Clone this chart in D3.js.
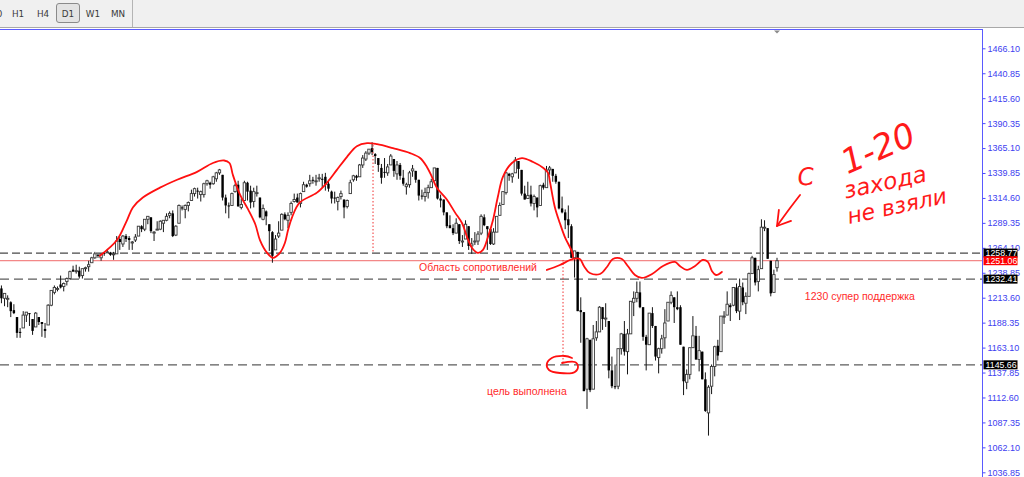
<!DOCTYPE html>
<html><head><meta charset="utf-8">
<script src="https://cdn.jsdelivr.net/npm/d3@7"></script>
<style>body{margin:0;background:#fff;overflow:hidden} svg{display:block}</style>
</head><body>
<svg id="c" width="1024" height="477"></svg>
<script>
// Daily candles, 2010-11-05 .. 2011-11-03 (index 0..251)
const opens = [
1220,1223,1223,1213,1213,1209,1201,1194,1179,1183,1196,1198,1192,1184,1194,1189,1182,
1186,1206,1219,1223,1227,1225,1230,1233,1242,1241,1241,1236,1243,1245,1249,1254,1257,1254,1259,1260,1259,1257,
1258,1273,1268,1276,1274,1270,1272,1276,1286,1283,1293,1295,1280,1283,1283,1289,1292,1297,1299,1277,
1289,1305,1303,1307,1312,1319,1322,1318,1318,1329,1330,1329,1334,1340,1338,1315,1307,1307,1321,
1328,1305,1312,1330,1322,1311,1320,1315,1293,1301,1288,1280,1262,1276,1282,1298,1292,1300,1311,1315,1309,1321,1328,
1329,1333,1332,1335,1334,1336,1329,1321,1315,1311,1316,1313,1306,1319,1333,1337,1336,1348,1354,1360,
1365,1359,1355,1345,1341,1340,1348,1354,1339,1348,1335,1326,1328,1342,1342,1333,1317,1316,1320,1325,1332,
1345,1314,1313,1300,1287,1284,1279,1288,1271,1273,1286,1266,1271,1271,1279,1295,1286,1283,1268,1280,1297,1308,
1320,1339,1336,1340,1352,1343,1319,1314,1318,1309,1315,1307,1328,1325,1343,1344,1337,1331,1304,1300,
1293,1286,1254,1260,1201,1199,1121,1171,1121,1173,1179,1204,1193,1190,1140,1124,1124,1162,1177,1159,1177,1209,1213,
1219,1204,1174,1166,1198,1185,1153,1162,1173,1190,1209,1214,1204,1204,1164,1128,1136,1163,1175,1151,1159,
1131,1097,1124,1144,1165,1159,1194,1196,1206,1206,1224,1200,1224,1208,1215,1238,1254,1230,1243,1284,1284,
1251,1219,1244];
const highs = [
1227,1224,1226,1218,1216,1210,1207,1194,1183,1200,1199,1198,1192,1199,1194,1189,1188,
1207,1221,1226,1225,1236,1229,1234,1241,1246,1247,1245,1243,1245,1251,1255,1260,1258,1258,1260,1263,1260,1260,
1276,1275,1277,1278,1276,1271,1278,1286,1287,1293,1296,1295,1281,1291,1292,1292,1299,1301,1302,1287,
1308,1307,1308,1311,1323,1325,1325,1322,1330,1333,1331,1337,1341,1344,1338,1318,1310,1320,1329,
1332,1314,1332,1331,1327,1325,1327,1315,1308,1302,1288,1281,1277,1291,1299,1300,1300,1311,1319,1319,1320,1331,1329,
1338,1336,1338,1339,1339,1340,1333,1322,1321,1316,1322,1313,1313,1333,1338,1338,1349,1358,1362,1364,
1371,1360,1355,1349,1355,1349,1359,1354,1352,1350,1343,1330,1342,1348,1342,1333,1323,1325,1328,1334,1345,
1345,1318,1313,1300,1297,1288,1294,1288,1277,1292,1286,1274,1280,1281,1298,1298,1286,1284,1284,1296,1310,1321,
1341,1340,1340,1356,1352,1343,1327,1331,1327,1318,1315,1328,1330,1347,1347,1344,1339,1331,1316,1303,
1307,1288,1261,1260,1214,1199,1173,1171,1186,1190,1205,1204,1208,1190,1154,1146,1162,1178,1190,1182,1210,1220,1230,
1230,1204,1176,1198,1204,1185,1163,1176,1202,1209,1220,1214,1220,1206,1164,1141,1163,1195,1185,1175,1159,
1138,1125,1146,1165,1171,1195,1200,1220,1208,1224,1228,1233,1229,1219,1239,1256,1254,1246,1293,1292,1284,
1251,1242,1254];
const lows = [
1218,1217,1208,1205,1204,1194,1197,1173,1173,1183,1189,1185,1176,1184,1186,1174,1173,
1186,1205,1217,1220,1223,1220,1226,1232,1240,1238,1233,1233,1240,1240,1249,1253,1254,1251,1256,1259,1256,1252,
1258,1262,1265,1270,1262,1262,1270,1276,1280,1281,1288,1279,1271,1282,1282,1280,1291,1294,1275,1276,
1289,1302,1294,1301,1312,1316,1314,1311,1315,1327,1324,1328,1331,1338,1312,1299,1294,1307,1320,
1306,1303,1312,1312,1304,1305,1316,1294,1292,1287,1261,1249,1262,1274,1282,1292,1284,1297,1310,1310,1305,1321,1325,
1326,1329,1327,1331,1325,1322,1321,1309,1309,1302,1313,1294,1304,1319,1331,1332,1336,1345,1352,1358,
1358,1349,1341,1329,1335,1337,1348,1336,1333,1333,1327,1318,1325,1336,1330,1312,1313,1311,1314,1325,1332,
1313,1305,1297,1284,1284,1277,1279,1268,1265,1273,1262,1258,1267,1267,1277,1286,1262,1267,1267,1280,1297,1308,
1318,1332,1330,1340,1334,1317,1313,1314,1306,1302,1295,1307,1323,1325,1338,1331,1329,1303,1299,1283,
1274,1254,1234,1200,1168,1119,1101,1118,1121,1170,1179,1181,1184,1132,1122,1121,1121,1156,1155,1136,1177,1195,1209,
1203,1170,1140,1166,1183,1150,1137,1157,1162,1190,1207,1188,1201,1166,1115,1121,1131,1163,1151,1139,1131,
1098,1074,1116,1134,1150,1159,1187,1196,1190,1205,1198,1191,1206,1197,1215,1238,1226,1220,1243,1281,1253,
1215,1219,1240];
const closes = [
1225,1223,1213,1218,1213,1200,1198,1178,1178,1196,1199,1197,1180,1198,1189,1187,1180,
1206,1221,1224,1223,1224,1228,1233,1240,1240,1241,1235,1243,1244,1247,1254,1258,1256,1258,1258,1260,1257,1258,
1271,1270,1276,1273,1272,1270,1275,1286,1283,1293,1296,1281,1280,1283,1291,1292,1296,1299,1276,1286,
1307,1304,1307,1310,1319,1324,1321,1321,1329,1332,1328,1336,1340,1343,1315,1307,1306,1319,1327,
1306,1308,1330,1321,1310,1321,1320,1295,1304,1296,1281,1256,1273,1279,1298,1293,1297,1309,1313,1310,1319,1328,1326,
1332,1332,1332,1335,1333,1328,1324,1314,1314,1315,1319,1305,1312,1330,1337,1335,1348,1355,1360,1364,
1361,1357,1348,1335,1340,1346,1357,1342,1348,1337,1329,1328,1340,1344,1333,1317,1316,1320,1325,1331,1345,
1314,1312,1300,1286,1284,1279,1289,1271,1271,1288,1266,1268,1271,1278,1296,1287,1283,1268,1280,1296,1307,1321,
1340,1337,1339,1353,1344,1319,1313,1317,1309,1316,1305,1327,1325,1343,1345,1337,1331,1304,1300,1292,
1287,1254,1261,1200,1199,1119,1172,1120,1172,1179,1204,1192,1193,1140,1124,1123,1162,1177,1159,1177,1210,1213,1219,
1204,1174,1166,1198,1185,1154,1162,1172,1188,1209,1216,1204,1202,1166,1129,1136,1163,1175,1151,1160,1131,
1099,1123,1144,1164,1155,1195,1195,1207,1204,1224,1200,1225,1209,1215,1238,1254,1229,1242,1285,1285,1253,
1218,1237,1251];

const yTicks = [1466.10,1440.85,1415.60,1390.35,1365.10,1339.85,1314.60,1289.35,1264.10,1238.85,1213.60,1188.35,1163.10,1137.85,1112.60,1087.35,1062.10,1036.85];
const levelValues = [1258.77, 1251.06, 1232.41, 1145.66];
const timeframes = ["M30","H1","H4","D1","W1","MN"];
const activeTimeframe = "D1";
const labelTexts = ["Область сопротивлений", "1230 супер поддержка", "цель выполнена"];
const labelAnchors = [[155.0,1244.7],[277.6,1215.3],[170.7,1119.2]];
const handTexts = ["С","1-20","захода","не взяли"];
const handAnchors = [[260.3,1335.8],[283.4,1365.2],[285.7,1330.7],[289.5,1306.4]];

// hand-drawn strokes, in (candle index, price)
const patternArc = [[33.6,1256],[39.1,1272],[42.3,1292],[44.2,1305],[47.4,1315],[52.9,1325],[58.4,1333],[64.8,1341],[69.9,1350],[73.5,1352.5],[75.2,1350],[76.3,1338],[78.6,1318],[81.2,1303],[83.5,1288],[85.0,1272],[87.3,1259],[89.2,1254],[91.4,1259],[93.0,1269],[94.0,1282],[95.3,1295],[97.8,1310],[103.3,1320],[106.5,1330],[109.7,1343],[112.9,1356],[116.1,1367],[119.4,1370],[122.6,1369],[127.7,1365],[133.2,1360],[136.4,1355],[138.6,1346],[140.2,1336],[141.8,1325],[145.0,1313],[147.6,1300],[149.9,1289],[151.5,1275],[153.1,1264],[155.0,1259],[156.6,1262],[158.2,1275],[159.8,1292],[161.4,1316],[163.0,1336],[165.9,1350],[169.1,1355],[172.7,1351],[176.0,1345],[177.5,1340],[178.1,1331],[179.7,1305],[181.3,1289],[182.9,1275],[185.2,1260],[185.5,1255]];
const resistWave = [[177.1,1241.7],[181.3,1246.7],[185.5,1252.8],[187.7,1252.8],[189.0,1245.7],[190.9,1238.6],[194.2,1237.6],[196.4,1244.7],[198.3,1252.8],[201.2,1252.8],[203.1,1245.7],[205.4,1236.6],[207.6,1233.6],[210.9,1237.6],[214.4,1245.7],[218.2,1249.8],[219.8,1245.7],[222.1,1241.7],[224.7,1245.7],[227.2,1251.8],[228.8,1249.8],[230.1,1240.7],[231.4,1236.6],[233.3,1239.7]];
const targetLoop = [[182.0,1147.5],[186.1,1148.5],[187.1,1144.5],[186.1,1138.4],[181.3,1137.4],[177.8,1140.4],[177.1,1146.5],[178.7,1152.6],[182.9,1154.6],[185.2,1152.6]];
const arrowShaft = [[258.4,1317.6],[255.2,1304.4],[251.0,1286.2]];
const arrowHead = [[251.6,1302.4],[251.0,1286.2],[255.5,1291.3]];
const guideTop = [[121.3,1368.2],[121.3,1258.9]];
const guideTarget = [[182.3,1251.8],[182.3,1147.5]];

const W = 1024, H = 477, chartRight = 982, chartTop = 30;
const svg = d3.select("#c");
const x = d3.scaleLinear().domain([0, 251]).range([-4.8, 777]);
const y = d3.scaleLinear().domain([1036.85, 1466.10]).range([472.3, 48.3]);

// toolbar
svg.append("rect").attr("x",0).attr("y",0).attr("width",W).attr("height",28).attr("fill","#f0f0f0");
svg.append("line").attr("x1",0).attr("x2",W).attr("y1",27.5).attr("y2",27.5).attr("stroke","#a8a8a8");
svg.append("line").attr("x1",132.5).attr("x2",132.5).attr("y1",0).attr("y2",27).attr("stroke","#b4b4b4");
const tfX = d3.scalePoint().domain(timeframes).range([-7, 118]);
timeframes.forEach(t=>{
  if (t===activeTimeframe){
    svg.append("rect").attr("x",tfX(t)-11.5).attr("y",3.5).attr("width",23).attr("height",19).attr("rx",2.5)
      .attr("fill","#e3e3e3").attr("stroke","#8a8a8a");
  }
  svg.append("text").attr("x",tfX(t)).attr("y",16.5).attr("text-anchor","middle")
    .attr("font-family","DejaVu Sans, sans-serif").attr("font-size",8.8).attr("fill","#3a3a3a").text(t);
});

// chart frame
svg.append("rect").attr("x",0).attr("y",chartTop).attr("width",chartRight).attr("height",H-chartTop).attr("fill","#fff");
svg.append("line").attr("x1",0).attr("x2",chartRight+0.5).attr("y1",29.5).attr("y2",29.5).attr("stroke","#5a5aff");
svg.append("line").attr("x1",chartRight+0.5).attr("x2",chartRight+0.5).attr("y1",29).attr("y2",H).attr("stroke","#5a5aff");

svg.append("defs").append("clipPath").attr("id","clip").append("rect")
  .attr("x",0).attr("y",chartTop+1).attr("width",chartRight).attr("height",H-chartTop);
const g = svg.append("g").attr("clip-path","url(#clip)");

// level lines
const levelStroke = ["#1a1a1a","#f06a6a","#5c5c5c","#5c5c5c"];
const levelDash = ["8,4",null,"9,5","9,5"];
const levelWidth = [1,1,1.3,1.3];
levelValues.forEach((v,k)=>{
  g.append("line").attr("x1",0).attr("x2",chartRight).attr("y1",y(v)).attr("y2",y(v))
   .attr("stroke",levelStroke[k]).attr("stroke-width",levelWidth[k]).attr("stroke-dasharray",levelDash[k]);
});

// candles
const n = closes.length;
const idx = d3.range(n);
const bw = 2.4;
g.append("g").selectAll("line").data(idx).join("line")
  .attr("x1",i=>x(i)).attr("x2",i=>x(i)).attr("y1",i=>y(highs[i])).attr("y2",i=>y(lows[i]))
  .attr("stroke","#151515").attr("stroke-width",1);
g.append("g").selectAll("rect").data(idx).join("rect")
  .attr("x",i=>x(i)-bw/2).attr("width",bw)
  .attr("y",i=>y(Math.max(opens[i],closes[i])))
  .attr("height",i=>Math.max(1,Math.abs(y(opens[i])-y(closes[i]))))
  .attr("fill",i=>closes[i]>=opens[i]?"#fff":"#000")
  .attr("stroke",i=>closes[i]>=opens[i]?"#3a3a3a":"none")
  .attr("stroke-width",0.9);

// red guides (dotted)
const lin = d3.line().x(d=>x(d[0])).y(d=>y(d[1]));
[guideTop, guideTarget].forEach(gd=>{
  g.append("path").attr("d",lin(gd)).attr("stroke","#f03030").attr("stroke-width",1)
    .attr("stroke-dasharray","1.5,2").attr("fill","none");
});

// hand-drawn strokes
const smooth = d3.line().x(d=>x(d[0])).y(d=>y(d[1])).curve(d3.curveCatmullRom.alpha(0.5));
[patternArc, resistWave, targetLoop, arrowShaft].forEach(s=>{
  g.append("path").attr("d",smooth(s)).attr("stroke","#ff1010").attr("stroke-width",1.8)
    .attr("fill","none").attr("stroke-linecap","round").attr("stroke-linejoin","round");
});
g.append("path").attr("d",lin(arrowHead)).attr("stroke","#ff1010").attr("stroke-width",1.8)
  .attr("fill","none").attr("stroke-linecap","round").attr("stroke-linejoin","round");

// printed labels
labelTexts.forEach((t,k)=>{
  g.append("text").attr("x",x(labelAnchors[k][0])).attr("y",y(labelAnchors[k][1]))
   .attr("text-anchor","middle").attr("dominant-baseline","central")
   .attr("font-family","Liberation Sans, Arial, sans-serif").attr("font-size",10.5)
   .attr("fill","#ff2a2a").text(t);
});

// handwritten notes
const handSize = [24,34,23,22];
const handRot = [-5,-24,-12,-12];
handTexts.forEach((t,k)=>{
  const px = x(handAnchors[k][0]), py = y(handAnchors[k][1]);
  g.append("text").attr("transform",`translate(${px},${py}) rotate(${handRot[k]})`)
   .attr("text-anchor","middle").attr("dominant-baseline","central")
   .attr("font-family","DejaVu Sans, sans-serif").attr("font-style","italic").attr("font-weight",300)
   .attr("font-size",handSize[k]).attr("fill","#ff1a1a").text(t);
});

// shift marker
svg.append("path").attr("d",`M${x(n-1)-3},30.5 L${x(n-1)+3},30.5 L${x(n-1)},33.5 Z`).attr("fill","#8a8a8a");

// price axis
const ax = svg.append("g").attr("transform",`translate(${chartRight+0.5},0)`)
  .call(d3.axisRight(y).tickValues(yTicks).tickSize(3).tickSizeOuter(0).tickPadding(2).tickFormat(d3.format(".2f")));
ax.select(".domain").remove();
ax.selectAll(".tick line").attr("stroke","#4a4aff");
ax.selectAll(".tick text").attr("fill","#4040f0").attr("font-family","Liberation Sans, Arial, sans-serif").attr("font-size",9);

// level price boxes
const boxFill = ["#000","#ff0000","#000","#000"];
levelValues.forEach((v,k)=>{
  const yy = y(v);
  svg.append("rect").attr("x",chartRight+1.5).attr("y",yy-4.5).attr("width",34).attr("height",9).attr("fill",boxFill[k]);
  svg.append("text").attr("x",chartRight+3.5).attr("y",yy+3.2).attr("fill","#fff")
    .attr("font-family","Liberation Sans, Arial, sans-serif").attr("font-size",8.8).text(d3.format(".2f")(v));
});

if (n !== 252 || highs.length!==n || lows.length!==n || opens.length!==n) {
  svg.append("text").attr("x",300).attr("y",100).attr("fill","blue").text(`len ${opens.length} ${highs.length} ${lows.length} ${closes.length}`);
}
</script>
</body></html>
